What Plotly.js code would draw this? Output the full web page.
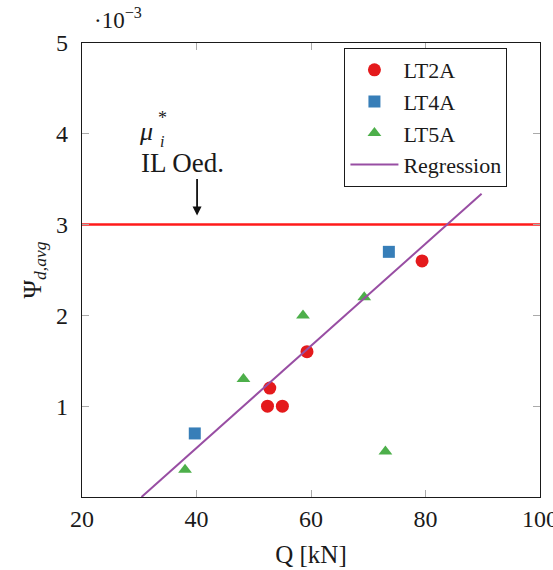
<!DOCTYPE html>
<html>
<head>
<meta charset="utf-8">
<script src="https://cdn.plot.ly/plotly-3.0.1.min.js"></script>
<style>html,body{margin:0;padding:0;background:#fff;}#chart{width:553px;height:570px;}</style>
</head>
<body>
<div id="chart"></div>
<script>
// Data (values in units of 1e-3)
const lt2aQ = [52.8, 52.4, 55.0, 59.3, 79.4];
const lt2aPsi = [1.2, 1.0, 1.0, 1.6, 2.6];
const lt4aQ = [39.7, 73.6];
const lt4aPsi = [0.7, 2.7];
const lt5aQ = [38.0, 48.2, 58.6, 69.3, 73.0];
const lt5aPsi = [0.3, 1.3, 2.0, 2.2, 0.5];
const regQ = [30.4, 89.8];
const regPsi = [0.0, 3.34];
const limitQ = [20, 100];
const limitPsi = [3, 3];
const xTicks = [20, 40, 60, 80, 100];
const yTicks = [1, 2, 3, 4, 5];

const serif = 'Liberation Serif, DejaVu Serif, serif';
const ink = '#1a1a1a';

const traces = [
  {x: limitQ, y: limitPsi, mode: 'lines', line: {color: '#ff1a1a', width: 2.5}, showlegend: false, hoverinfo: 'skip'},
  {x: lt2aQ, y: lt2aPsi, mode: 'markers', name: 'LT2A', marker: {symbol: 'circle', size: 13, color: '#e41a1c'}},
  {x: lt4aQ, y: lt4aPsi, mode: 'markers', name: 'LT4A', marker: {symbol: 'square', size: 12, color: '#377eb8'}},
  {x: lt5aQ, y: lt5aPsi, mode: 'markers', name: 'LT5A', marker: {symbol: 'triangle-up', size: 12, color: '#4daf4a'}},
  {x: regQ, y: regPsi, mode: 'lines', name: 'Regression', line: {color: '#984ea3', width: 2}}
];

const axisCommon = {
  showgrid: false, zeroline: false, showline: true, linecolor: ink, linewidth: 1.3,
  mirror: 'all', ticks: 'inside', ticklen: 7, tickcolor: '#aaa', tickwidth: 1,
  tickfont: {family: serif, size: 24, color: ink}, ticklabeloverflow: 'allow'
};

const layout = {
  width: 553, height: 570,
  margin: {l: 82, r: 13, t: 43, b: 73},
  paper_bgcolor: '#fff', plot_bgcolor: '#fff',
  font: {family: serif, size: 24, color: ink},
  xaxis: Object.assign({}, axisCommon, {
    range: [20, 100], tickvals: xTicks, ticktext: xTicks.map(String), ticklabelstandoff: 0,
    title: {text: 'Q [kN]', font: {family: serif, size: 25, color: ink}, standoff: 14}
  }),
  yaxis: Object.assign({}, axisCommon, {
    range: [0, 5], tickvals: yTicks, ticktext: yTicks.map(String), ticklabelstandoff: 8,
    title: {text: 'Ψ<sub><i>d,avg</i></sub>', font: {family: serif, size: 25, color: ink}, standoff: 7}
  }),
  legend: {
    x: 0.573, y: 0.989, xanchor: 'left', yanchor: 'top',
    bordercolor: ink, borderwidth: 1, bgcolor: '#fff', itemwidth: 48,
    font: {family: serif, size: 22, color: ink}
  },
  showlegend: true,
  annotations: [
    {xref: 'paper', yref: 'paper', x: 0.022, y: 1.0, xanchor: 'left', yanchor: 'bottom', yshift: 8, showarrow: false,
     text: '·10<sup>−3</sup>', font: {family: serif, size: 23, color: ink}},
    {xref: 'x', yref: 'y', x: 31.1, y: 4.02, xanchor: 'center', yanchor: 'middle', showarrow: false,
     text: '<i>μ</i>', font: {family: serif, size: 26, color: ink}},
    {xref: 'x', yref: 'y', x: 34.0, y: 4.17, xanchor: 'center', yanchor: 'middle', showarrow: false,
     text: '*', font: {family: serif, size: 18, color: ink}},
    {xref: 'x', yref: 'y', x: 34.0, y: 3.92, xanchor: 'center', yanchor: 'middle', showarrow: false, borderpad: 0,
     text: '<i>i</i>', font: {family: serif, size: 16, color: ink}},
    {xref: 'x', yref: 'y', x: 30.0, y: 3.68, xanchor: 'left', yanchor: 'middle', showarrow: false,
     text: 'IL Oed.', font: {family: serif, size: 27, color: ink}},
    {xref: 'x', yref: 'y', x: 40.1, y: 3.1, axref: 'x', ayref: 'y', ax: 40.1, ay: 3.52,
     text: '', showarrow: true, arrowhead: 2, arrowsize: 1, arrowwidth: 1.8, arrowcolor: '#111'}
  ]
};

Plotly.newPlot('chart', traces, layout, {displayModeBar: false, staticPlot: true});
</script>
</body>
</html>
